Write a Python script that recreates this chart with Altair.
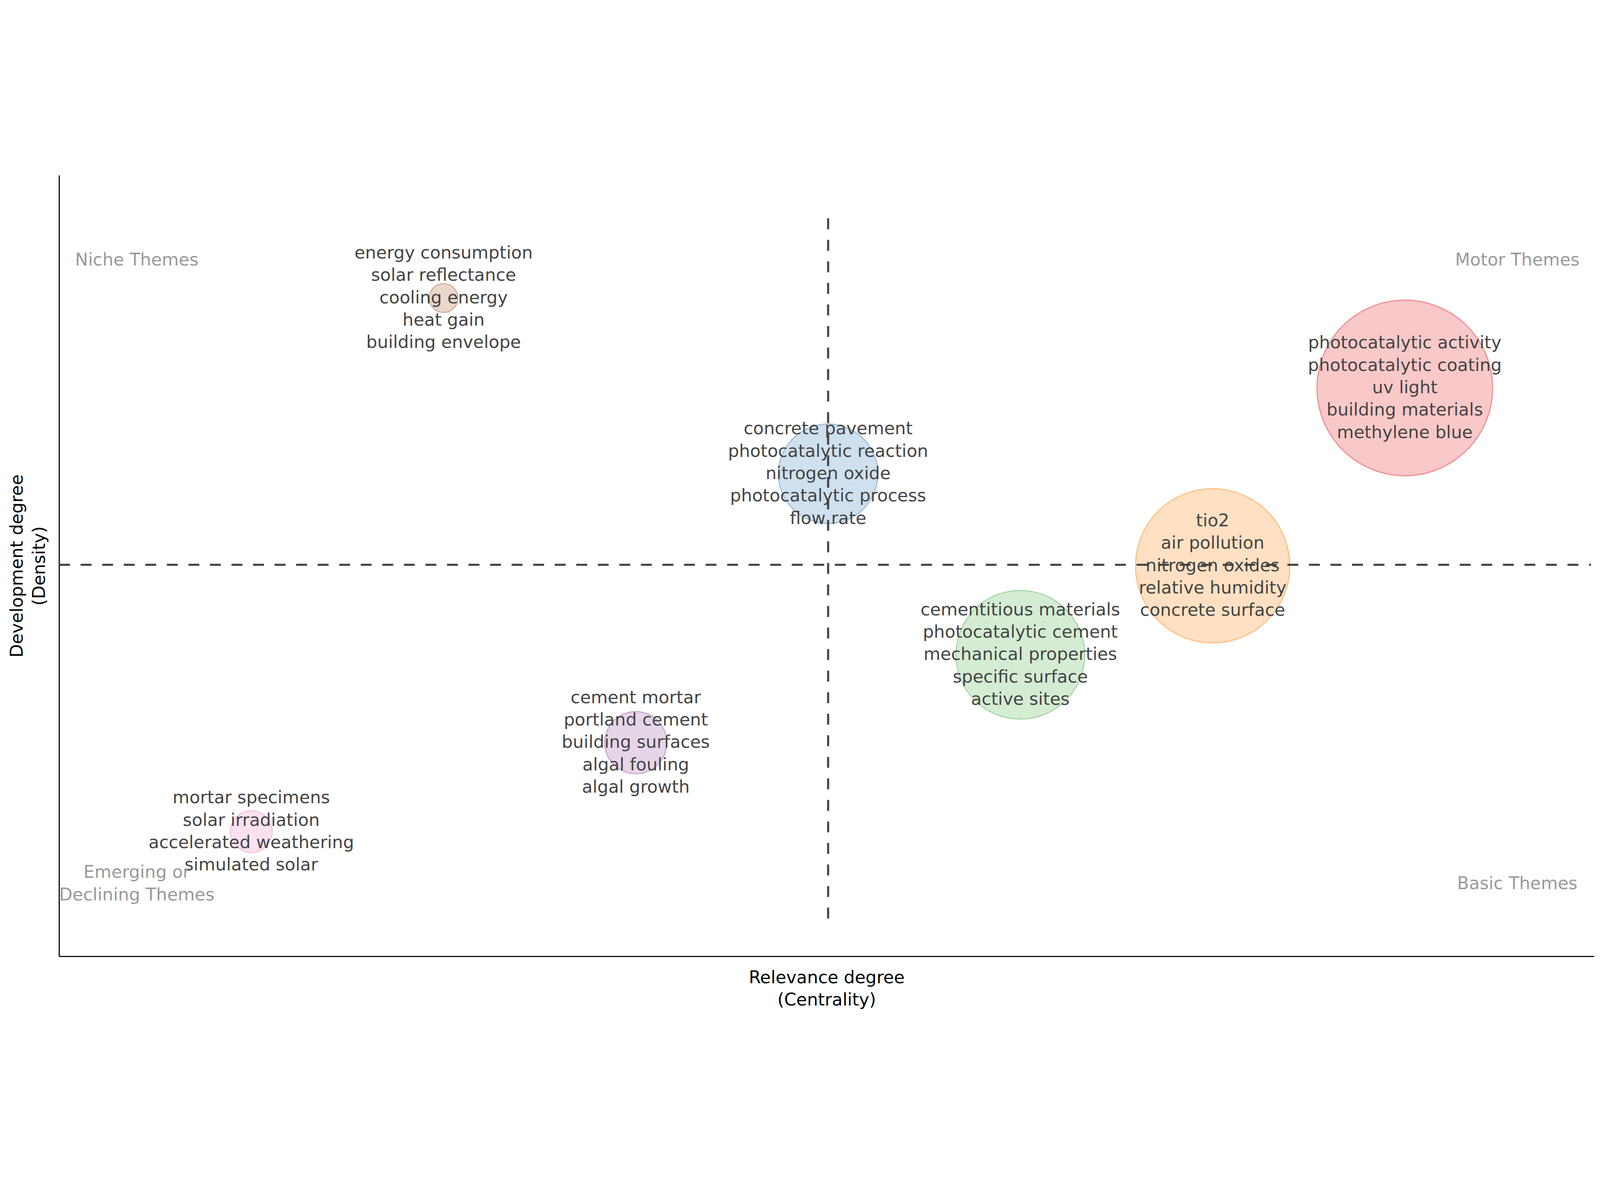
import altair as alt
import pandas as pd

cluster_names = ["energy consumption", "photocatalytic activity", "concrete pavement",
                 "tio2", "cementitious materials", "cement mortar", "mortar specimens"]
cluster_words = [
    ["energy consumption", "solar reflectance", "cooling energy", "heat gain", "building envelope"],
    ["photocatalytic activity", "photocatalytic coating", "uv light", "building materials", "methylene blue"],
    ["concrete pavement", "photocatalytic reaction", "nitrogen oxide", "photocatalytic process", "flow rate"],
    ["tio2", "air pollution", "nitrogen oxides", "relative humidity", "concrete surface"],
    ["cementitious materials", "photocatalytic cement", "mechanical properties", "specific surface", "active sites"],
    ["cement mortar", "portland cement", "building surfaces", "algal fouling", "algal growth"],
    ["mortar specimens", "solar irradiation", "accelerated weathering", "simulated solar"],
]
centrality = [25.05, 87.67, 50.10, 75.15, 62.62, 37.57, 12.52]
density = [84.29, 72.77, 61.78, 50.00, 38.61, 27.36, 15.97]
frequency = [20, 740, 238, 571, 398, 93, 42]

quad_labels = [["Niche Themes"], ["Motor Themes"], ["Emerging or", "Declining Themes"], ["Basic Themes"]]
quad_x = [5.06, 95.0, 5.06, 95.0]
quad_y = [89.14, 89.14, 9.29, 9.29]

mean_centrality = 50.10
mean_density = 50.13
vline_range = [4.84, 95.16]
hline_range = [0.0, 99.8]

set1 = ["#A65628", "#E41A1C", "#377EB8", "#FF7F00", "#4DAF4A", "#984EA3", "#F781BF"]

# ---- tables ----
clusters = pd.DataFrame({
    "cluster": cluster_names,
    "label": ["\n".join(w) for w in cluster_words],
    "nlines": [len(w) for w in cluster_words],
    "centrality": centrality,
    "density": density,
    "freq": frequency,
})
quads = pd.DataFrame({"label": ["\n".join(q) for q in quad_labels],
                      "nlines": [len(q) for q in quad_labels],
                      "x": quad_x, "y": quad_y})
vline = pd.DataFrame({"x": [mean_centrality], "y": [vline_range[0]], "y2": [vline_range[1]]})
hline = pd.DataFrame({"x": [hline_range[0]], "x2": [hline_range[1]], "y": [mean_density]})

FONT = "DejaVu Sans"
FS = 62
LH = 80
xscale = alt.Scale(domain=[0, 100], nice=False, zero=False)
yscale = alt.Scale(domain=[0, 100], nice=False, zero=False)
xaxis = alt.Axis(title=["Relevance degree", "(Centrality)"], labels=False, ticks=False, grid=False,
                 domainColor="black", domainWidth=4, titleFont=FONT, titleFontSize=FS,
                 titleFontWeight="normal", titleColor="black", titleLineHeight=LH, titlePadding=46)
yaxis = alt.Axis(title=["Development degree", "(Density)"], labels=False, ticks=False, grid=False,
                 domainColor="black", domainWidth=4, titleFont=FONT, titleFontSize=FS,
                 titleFontWeight="normal", titleColor="black", titleLineHeight=LH, titlePadding=38)
cscale = alt.Scale(domain=cluster_names, range=set1)

bubbles = alt.Chart(clusters).mark_circle(fillOpacity=0.24, strokeOpacity=0.42, strokeWidth=4, opacity=1).encode(
    x=alt.X("centrality:Q", scale=xscale, axis=xaxis),
    y=alt.Y("density:Q", scale=yscale, axis=yaxis),
    size=alt.Size("freq:Q", scale=alt.Scale(domain=[0, 740], range=[0, 394384]), legend=None),
    color=alt.Color("cluster:N", scale=cscale, legend=None),
    stroke=alt.Stroke("cluster:N", scale=cscale, legend=None),
)


def text_layer(df, xf, yf, n, color):
    return alt.Chart(df).transform_filter(alt.datum.nlines == n).mark_text(
        font=FONT, fontSize=FS, color=color, lineBreak="\n", lineHeight=LH,
        align="center", baseline="middle", dy=-(n - 1) * LH / 2,
    ).encode(
        x=alt.X(f"{xf}:Q", scale=xscale, axis=xaxis),
        y=alt.Y(f"{yf}:Q", scale=yscale, axis=yaxis),
        text="label:N",
    )


labels5 = text_layer(clusters, "centrality", "density", 5, "#444444")
labels4 = text_layer(clusters, "centrality", "density", 4, "#444444")
quad1 = text_layer(quads, "x", "y", 1, "#999999")
quad2 = text_layer(quads, "x", "y", 2, "#999999")

vrule = alt.Chart(vline).mark_rule(color="#444444", strokeWidth=7.5, strokeDash=[39, 38]).encode(
    x=alt.X("x:Q", scale=xscale, axis=xaxis),
    y=alt.Y("y:Q", scale=yscale, axis=yaxis),
    y2="y2:Q",
)
hrule = alt.Chart(hline).mark_rule(color="#444444", strokeWidth=7.5, strokeDash=[39, 38]).encode(
    x=alt.X("x:Q", scale=xscale, axis=xaxis),
    x2="x2:Q",
    y=alt.Y("y:Q", scale=yscale, axis=yaxis),
)

chart = alt.layer(bubbles, labels5, labels4, quad1, quad2, vrule, hrule).properties(
    width=5485, height=2792,
    autosize=alt.AutoSizeParams(type="none"),
    padding={"left": 200, "top": 21, "right": 10, "bottom": 190},
    background="white",
).configure_view(strokeWidth=0)

chart.save("out.html", embed_options={"renderer": "svg", "actions": False})
